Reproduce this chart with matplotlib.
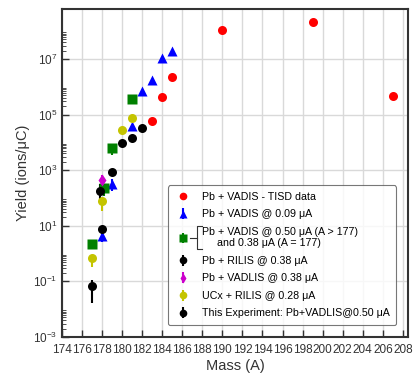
import matplotlib.pyplot as plt
from matplotlib.lines import Line2D
from matplotlib.ticker import FixedLocator, NullFormatter
import numpy as np

plt.rcParams['font.family'] = ['Liberation Sans', 'DejaVu Sans']

# Pb + VADIS - TISD data
tisd_mass = [183, 184, 185, 190, 199, 207]
tisd_yield = [5.8e4, 4.3e5, 2.2e6, 1.1e8, 2.2e8, 4.5e5]

# Pb + VADIS @ 0.09 uA
v09_mass = [178, 179, 181, 182, 183, 184, 185]
v09_yield = [4.3, 3.2e2, 3.8e4, 7.0e5, 1.7e6, 1.07e7, 2.0e7]
v09_lo = [1.6, 140, 0, 0, 0, 0, 0]
v09_hi = [2.0, 160, 0, 0, 0, 0, 0]

# Pb + VADIS @ 0.50 uA (A > 177) and 0.38 uA (A = 177)
v50_mass = [177, 178.2, 179, 181]
v50_yield = [2.2, 2.2e2, 6.3e3, 3.6e5]
v50_lo = [0, 100, 2900, 0]
v50_hi = [0, 40, 1000, 0]

# Pb + RILIS @ 0.38 uA
ril_mass = [177.8, 179, 180, 181, 182]
ril_yield = [1.8e2, 8.9e2, 9.3e3, 1.4e4, 3.3e4]
ril_lo = [90, 0, 0, 0, 0]
ril_hi = [140, 0, 0, 0, 0]

# Pb + VADLIS @ 0.38 uA
vad_mass = [178]
vad_yield = [4.5e2]
vad_lo = [150]
vad_hi = [230]

# UCx + RILIS @ 0.28 uA
ucx_mass = [177, 178, 180, 181]
ucx_yield = [0.67, 76, 2.8e4, 7.7e4]
ucx_lo = [0.35, 42, 0, 0]
ucx_hi = [0.1, 10, 0, 0]

# This Experiment: Pb+VADLIS@0.50 uA
exp_mass = [177, 178]
exp_yield = [0.066, 7.6]
exp_lo = [0.049, 2.0]
exp_hi = [0.05, 2.0]

fig = plt.figure(figsize=(4.15, 3.79), dpi=100)
ax = fig.add_axes([0.149, 0.111, 0.834, 0.864])

ax.set_yscale('log')
ax.set_xlim(174, 208.5)
ax.set_ylim(1e-3, 6e8)

ax.grid(True, which='major', color='#d9d9d9', linewidth=1.0, zorder=0)
ax.set_axisbelow(True)

ms = 6.5
ax.plot(tisd_mass, tisd_yield, 'o', color='#ff0000', ms=ms, mec='none', zorder=3)
ax.errorbar(v09_mass, v09_yield, yerr=[v09_lo, v09_hi], fmt='^', color='#0000ff',
            ms=ms, mec='none', elinewidth=1.5, capsize=0, zorder=3)
ax.errorbar(v50_mass, v50_yield, yerr=[v50_lo, v50_hi], fmt='s', color='#008000',
            ms=ms, mec='none', elinewidth=1.5, capsize=0, zorder=3)
ax.errorbar(ril_mass, ril_yield, yerr=[ril_lo, ril_hi], fmt='o', color='black',
            ms=ms, mec='none', elinewidth=1.5, capsize=0, zorder=3)
ax.errorbar(vad_mass, vad_yield, yerr=[vad_lo, vad_hi], fmt='d', color='#cc00cc',
            ms=ms, mec='none', elinewidth=1.5, capsize=0, zorder=3)
ax.errorbar(ucx_mass, ucx_yield, yerr=[ucx_lo, ucx_hi], fmt='o', color='#c4c400',
            ms=ms, mec='none', elinewidth=1.5, capsize=0, zorder=3)
ax.errorbar(exp_mass, exp_yield, yerr=[exp_lo, exp_hi], fmt='o', color='black',
            ms=ms, mec='none', elinewidth=1.5, capsize=0, zorder=4)

# ticks
ax.set_xticks(np.arange(174, 209, 2))
ax.set_yticks([1e-3, 1e-1, 1e1, 1e3, 1e5, 1e7])
minors = [k * 10.0 ** n for n in (-3, -1, 1, 3, 5, 7) for k in range(2, 10)]
ax.yaxis.set_minor_locator(FixedLocator(minors))
ax.yaxis.set_minor_formatter(NullFormatter())
ax.tick_params(which='both', direction='in', labelsize=8.5, colors='#333333',
               labelcolor='#333333')
ax.tick_params(which='major', length=5, width=1)
ax.tick_params(which='minor', length=3, width=0.6)
ax.tick_params(axis='x', pad=5)
for s in ax.spines.values():
    s.set_color('#333333')
    s.set_linewidth(1.5)

ax.set_xlabel('Mass (A)', fontsize=10.5, color='#333333', labelpad=2)
ax.set_ylabel('Yield (ions/μC)', fontsize=10.5, color='#333333', labelpad=2)

# legend
def eh(marker, color):
    return Line2D([0], [0], marker=marker, color=color, ls='none', ms=5.5, mec='none')

def ehbar(marker, color):
    return ax.errorbar([], [], yerr=[], fmt=marker, color=color, ms=5.5, mec='none',
                       elinewidth=1.5, capsize=0)

handles = [eh('o', '#ff0000'), ehbar('^', '#0000ff'), ehbar('s', '#008000'),
           ehbar('o', 'black'), ehbar('d', '#cc00cc'), ehbar('o', '#c4c400'),
           ehbar('o', 'black')]
labels = ['Pb + VADIS - TISD data',
          'Pb + VADIS @ 0.09 μA',
          'Pb + VADIS @ 0.50 μA (A > 177)\n     and 0.38 μA (A = 177)',
          'Pb + RILIS @ 0.38 μA',
          'Pb + VADLIS @ 0.38 μA',
          'UCx + RILIS @ 0.28 μA',
          'This Experiment: Pb+VADLIS@0.50 μA']
leg = ax.legend(handles, labels, loc='lower right', bbox_to_anchor=(0.966, 0.037),
                fontsize=7.7, frameon=True, fancybox=True, edgecolor='#555555',
                handlelength=1.6, handletextpad=1.0, borderpad=0.6, labelspacing=0.7,
                borderaxespad=0)
leg.get_frame().set_linewidth(0.8)

# bracket next to the two-line legend entry
fig.canvas.draw()
txt = leg.get_texts()[2]
bb = txt.get_window_extent()
x0 = bb.x0 - 5
inv = fig.transFigure.inverted()
pts = [(x0 + 5, bb.y1 + 1), (x0, bb.y1 + 1), (x0, bb.y0 - 1), (x0 + 5, bb.y0 - 1)]
fpts = inv.transform(pts)
fig.lines.append(Line2D(fpts[:, 0], fpts[:, 1], color='#333333', lw=0.8,
                        transform=fig.transFigure))
mid = (bb.y0 + bb.y1) / 2
fm = inv.transform([(x0 - 7, mid), (x0, mid)])
fig.lines.append(Line2D(fm[:, 0], fm[:, 1], color='#333333', lw=0.8,
                        transform=fig.transFigure))

fig.savefig('out.png', dpi=100)
